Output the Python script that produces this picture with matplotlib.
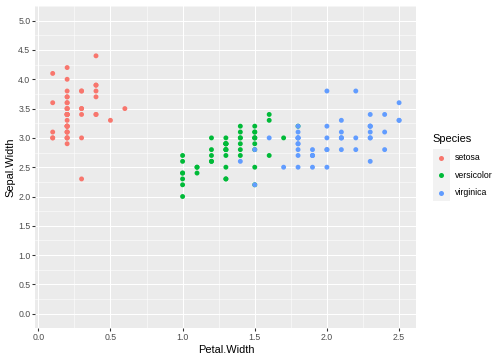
import matplotlib
matplotlib.use("Agg")
import matplotlib.pyplot as plt
from matplotlib.patches import Rectangle
from matplotlib.lines import Line2D
from matplotlib.ticker import MultipleLocator, FormatStrFormatter

plt.rcParams["font.family"] = ["Liberation Sans", "DejaVu Sans"]


# =====================================================
# 1. Data (iris: Petal.Width vs Sepal.Width)
# =====================================================

species = ["setosa", "versicolor", "virginica"]
colors = ["#F8766D", "#00BA38", "#619CFF"]

setosa_petal_w = [0.2, 0.2, 0.2, 0.2, 0.2, 0.4, 0.3, 0.2, 0.2, 0.1,
                  0.2, 0.2, 0.1, 0.1, 0.2, 0.4, 0.4, 0.3, 0.3, 0.3,
                  0.2, 0.4, 0.2, 0.5, 0.2, 0.2, 0.4, 0.2, 0.2, 0.2,
                  0.2, 0.4, 0.1, 0.2, 0.2, 0.2, 0.2, 0.1, 0.2, 0.2,
                  0.3, 0.3, 0.2, 0.6, 0.4, 0.3, 0.2, 0.2, 0.2, 0.2]
setosa_sepal_w = [3.5, 3.0, 3.2, 3.1, 3.6, 3.9, 3.4, 3.4, 2.9, 3.1,
                  3.7, 3.4, 3.0, 3.0, 4.0, 4.4, 3.9, 3.5, 3.8, 3.8,
                  3.4, 3.7, 3.6, 3.3, 3.4, 3.0, 3.4, 3.5, 3.4, 3.2,
                  3.1, 3.4, 4.1, 4.2, 3.1, 3.2, 3.5, 3.6, 3.0, 3.4,
                  3.5, 2.3, 3.2, 3.5, 3.8, 3.0, 3.8, 3.2, 3.7, 3.3]

versicolor_petal_w = [1.4, 1.5, 1.5, 1.3, 1.5, 1.3, 1.6, 1.0, 1.3, 1.4,
                      1.0, 1.5, 1.0, 1.4, 1.3, 1.4, 1.5, 1.0, 1.5, 1.1,
                      1.8, 1.3, 1.5, 1.2, 1.3, 1.4, 1.4, 1.7, 1.5, 1.0,
                      1.1, 1.0, 1.2, 1.6, 1.5, 1.6, 1.5, 1.3, 1.3, 1.3,
                      1.2, 1.4, 1.2, 1.0, 1.3, 1.2, 1.3, 1.3, 1.1, 1.3]
versicolor_sepal_w = [3.2, 3.2, 3.1, 2.3, 2.8, 2.8, 3.3, 2.4, 2.9, 2.7,
                      2.0, 3.0, 2.2, 2.9, 2.9, 3.1, 3.0, 2.7, 2.2, 2.5,
                      3.2, 2.8, 2.5, 2.8, 2.9, 3.0, 2.8, 3.0, 2.9, 2.6,
                      2.4, 2.4, 2.7, 2.7, 3.0, 3.4, 3.1, 2.3, 3.0, 2.5,
                      2.6, 3.0, 2.6, 2.3, 2.7, 3.0, 2.9, 2.9, 2.5, 2.8]

virginica_petal_w = [2.5, 1.9, 2.1, 1.8, 2.2, 2.1, 1.7, 1.8, 1.8, 2.5,
                     2.0, 1.9, 2.1, 2.0, 2.4, 2.3, 1.8, 2.2, 2.3, 1.5,
                     2.3, 2.0, 2.0, 1.8, 2.1, 1.8, 1.8, 1.8, 2.1, 1.6,
                     1.9, 2.0, 2.2, 1.5, 1.4, 2.3, 2.4, 1.8, 1.8, 2.1,
                     2.4, 2.3, 1.9, 2.3, 2.5, 2.3, 1.9, 2.0, 2.3, 1.8]
virginica_sepal_w = [3.3, 2.7, 3.0, 2.9, 3.0, 3.0, 2.5, 2.9, 2.5, 3.6,
                     3.2, 2.7, 3.0, 2.5, 2.8, 3.2, 3.0, 3.8, 2.6, 2.2,
                     3.2, 2.8, 2.8, 2.7, 3.3, 3.2, 2.8, 3.0, 2.8, 3.0,
                     2.8, 3.8, 2.8, 2.8, 2.6, 3.0, 3.4, 3.1, 3.0, 3.1,
                     3.1, 3.1, 2.7, 3.2, 3.3, 3.0, 2.5, 3.0, 3.4, 3.0]

x_data = [setosa_petal_w, versicolor_petal_w, virginica_petal_w]
y_data = [setosa_sepal_w, versicolor_sepal_w, virginica_sepal_w]


# =====================================================
# 2. ggplot-like figure
# =====================================================

fig = plt.figure(figsize=(7, 5), dpi=72)
ax = fig.add_axes([0.0702, 0.0878, 0.756, 0.8955])

ax.set_facecolor("#EBEBEB")
for s in ax.spines.values():
    s.set_visible(False)

for sp, xs, ys, c in zip(species, x_data, y_data, colors):
    ax.scatter(xs, ys, s=24, color=c, edgecolors="none", zorder=3)

ax.set_xlim(-0.02, 2.62)
ax.set_ylim(-0.25, 5.25)

ax.xaxis.set_major_locator(MultipleLocator(0.5))
ax.xaxis.set_minor_locator(MultipleLocator(0.25))
ax.yaxis.set_major_locator(MultipleLocator(0.5))
ax.yaxis.set_minor_locator(MultipleLocator(0.25))
ax.xaxis.set_major_formatter(FormatStrFormatter("%.1f"))
ax.yaxis.set_major_formatter(FormatStrFormatter("%.1f"))

ax.grid(True, which="major", color="white", linewidth=1.07, zorder=0)
ax.grid(True, which="minor", color="white", linewidth=0.53, zorder=0)
ax.set_axisbelow(True)

ax.tick_params(which="major", length=2.75, width=1.07, color="#333333",
               labelsize=8.8, labelcolor="#4D4D4D", pad=2.2)
ax.tick_params(which="minor", length=0)

ax.set_xlabel("Petal.Width", fontsize=11, color="black", labelpad=3)
ax.set_ylabel("Sepal.Width", fontsize=11, color="black", labelpad=3)


# =====================================================
# 3. Legend (drawn by hand, ggplot style)
# =====================================================

W, H = 504, 360
fig.text(432.5 / W, 1 - 139 / H, "Species", fontsize=11,
         ha="left", va="center")

key_top = 149.3
key_h = 17.3
for i, (sp, c) in enumerate(zip(species, colors)):
    y0 = key_top + i * key_h
    fig.patches.append(Rectangle((432.7 / W, 1 - (y0 + key_h) / H),
                                 17.3 / W, key_h / H,
                                 transform=fig.transFigure,
                                 facecolor="#F2F2F2", edgecolor="none"))
    yc = 1 - (y0 + key_h / 2) / H
    fig.lines.append(Line2D([441.3 / W], [yc], marker="o", markersize=5,
                            markerfacecolor=c, markeredgecolor="none",
                            linestyle="none", transform=fig.transFigure))
    fig.text(455 / W, yc, sp, fontsize=8.8, ha="left", va="center")

fig.savefig("out.png", dpi=72)
